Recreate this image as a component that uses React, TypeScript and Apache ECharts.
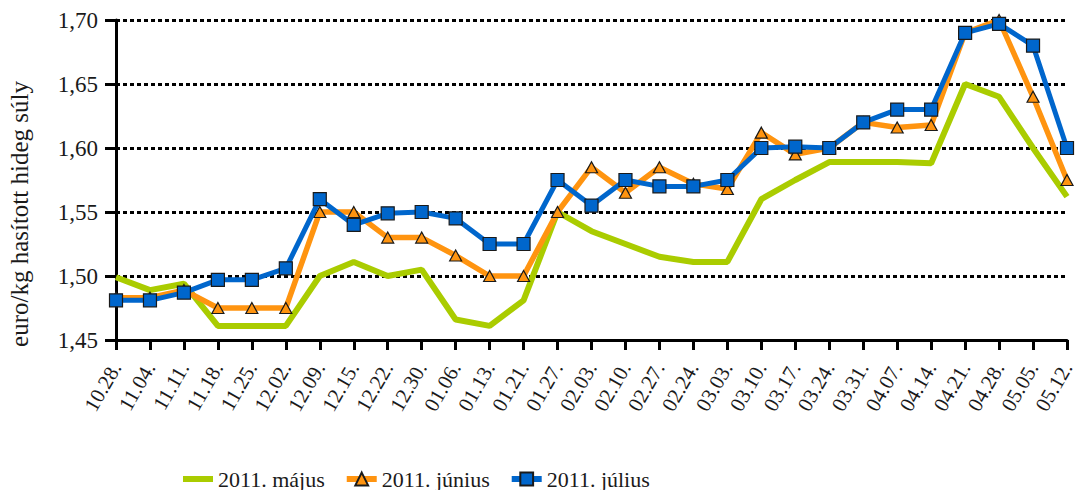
import React, { useEffect, useRef } from "react";
import * as echarts from "echarts";

const categories = ["10.28.","11.04.","11.11.","11.18.","11.25.","12.02.","12.09.","12.15.","12.22.","12.30.","01.06.","01.13.","01.21.","01.27.","02.03.","02.10.","02.27.","02.24.","03.03.","03.10.","03.17.","03.24.","03.31.","04.07.","04.14.","04.21.","04.28.","05.05.","05.12."];

const seriesNames = ["2011. május", "2011. június", "2011. július"];

const mayValues = [1.499,1.489,1.494,1.461,1.461,1.461,1.500,1.511,1.500,1.505,1.466,1.461,1.481,1.550,1.535,1.525,1.515,1.511,1.511,1.560,1.575,1.589,1.589,1.589,1.588,1.650,1.640,1.600,1.562];
const juneValues = [1.483,1.483,1.489,1.475,1.475,1.475,1.550,1.550,1.530,1.530,1.516,1.500,1.500,1.550,1.585,1.565,1.585,1.572,1.568,1.612,1.595,1.600,1.620,1.616,1.618,1.690,1.700,1.640,1.575];
const julyValues = [1.481,1.481,1.487,1.497,1.497,1.506,1.560,1.540,1.549,1.550,1.545,1.525,1.525,1.575,1.555,1.575,1.570,1.570,1.575,1.600,1.601,1.600,1.620,1.630,1.630,1.690,1.697,1.680,1.600];

const yMin = 1.45;
const yMax = 1.7;
const yStep = 0.05;
const yTitle = "euro/kg hasított hideg súly";

const FONT = "'Liberation Serif', 'DejaVu Serif', serif";

export default function App() {
  const ref = useRef<HTMLDivElement>(null);
  useEffect(() => {
    if (!ref.current) return;
    const chart = echarts.init(ref.current, null, { renderer: "svg" });
    chart.setOption({
      animation: false,
      backgroundColor: "#ffffff",
      textStyle: { fontFamily: FONT },
      grid: { left: 116, right: 12, top: 20, bottom: 150, containLabel: false },
      legend: {
        data: [
          { name: seriesNames[0], icon: "path://M0,0h30v6h-30z" },
          { name: seriesNames[1] },
          { name: seriesNames[2] },
        ],
        left: 178,
        top: 462,
        itemWidth: 30,
        itemHeight: 16,
        itemGap: 19,
        lineStyle: { width: 6 },
        textStyle: { fontFamily: FONT, fontSize: 22, color: "#1a1a1a", lineHeight: 24 },
      },
      graphic: [
        {
          type: "text",
          x: 19,
          y: 214,
          rotation: Math.PI / 2,
          style: {
            text: yTitle,
            fontFamily: FONT,
            fontSize: 25,
            fill: "#1a1a1a",
            align: "center",
            verticalAlign: "middle",
          },
        },
      ],
      xAxis: {
        type: "category",
        data: categories,
        boundaryGap: false,
        axisLine: { lineStyle: { color: "#000", width: 3 } },
        axisTick: { show: true, length: 10, interval: 0, lineStyle: { color: "#000", width: 3 } },
        axisLabel: {
          interval: 0,
          rotate: 60,
          margin: 24,
          fontFamily: FONT,
          fontSize: 21,
          color: "#1a1a1a",
        },
        splitLine: { show: false },
      },
      yAxis: {
        type: "value",
        min: yMin,
        max: yMax,
        interval: yStep,
        axisLine: { show: true, lineStyle: { color: "#000", width: 3 } },
        axisTick: { show: true, length: 11, lineStyle: { color: "#000", width: 3 } },
        axisLabel: {
          margin: 18,
          fontFamily: FONT,
          fontSize: 23,
          color: "#1a1a1a",
          formatter: (v: number) => v.toFixed(2).replace(".", ","),
        },
        splitLine: { show: true, lineStyle: { color: "#000", width: 3, type: [4, 3] } },
      },
      series: [
        {
          name: seriesNames[0],
          type: "line",
          data: mayValues,
          symbol: "none",
          lineStyle: { color: "#AACC00", width: 6 },
          itemStyle: { color: "#AACC00" },
          z: 2,
        },
        {
          name: seriesNames[1],
          type: "line",
          data: juneValues,
          symbol: "triangle",
          symbolSize: [12, 11],
          lineStyle: { color: "#FF9410", width: 5.5 },
          itemStyle: { color: "#FF9410", borderColor: "#1a1a1a", borderWidth: 1.2 },
          z: 3,
        },
        {
          name: seriesNames[2],
          type: "line",
          data: julyValues,
          symbol: "rect",
          symbolSize: 13,
          lineStyle: { color: "#0066CC", width: 5 },
          itemStyle: { color: "#0066CC", borderColor: "#1a1a1a", borderWidth: 1.2 },
          z: 4,
        },
      ],
    });
    return () => chart.dispose();
  }, []);
  return (
    <div
      ref={ref}
      style={{ position: "fixed", left: 0, top: 0, width: 1079, height: 490 }}
    />
  );
}
